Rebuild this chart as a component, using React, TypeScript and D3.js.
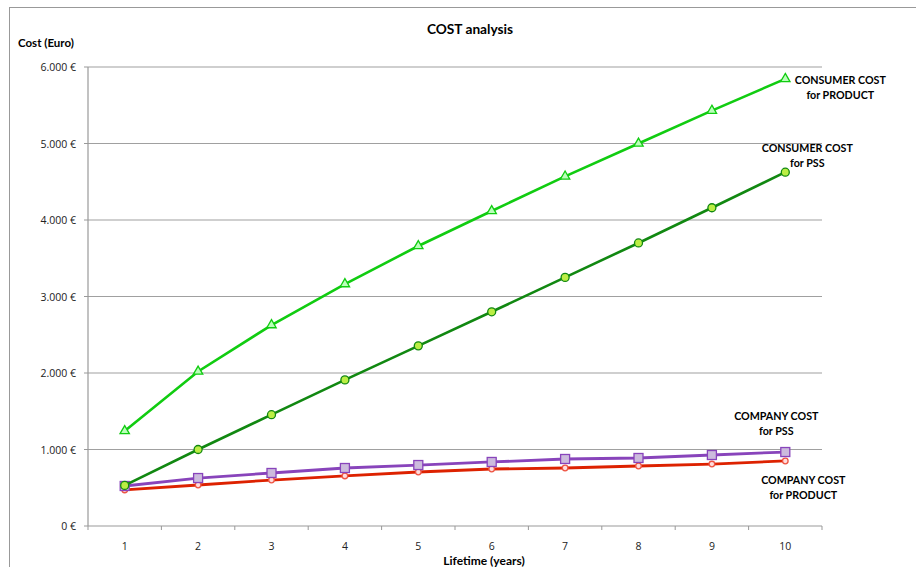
import React from "react";
import * as d3 from "d3";

const years = [1, 2, 3, 4, 5, 6, 7, 8, 9, 10];
const consumerProduct = [1242, 2020, 2627, 3163, 3660, 4118, 4570, 5000, 5430, 5845];
const consumerPSS = [530, 1000, 1455, 1910, 2355, 2800, 3250, 3700, 4160, 4625];
const companyPSS = [523, 627, 693, 758, 797, 837, 876, 889, 928, 967];
const companyProduct = [471, 536, 601, 654, 706, 745, 758, 784, 810, 850];
const yTicks = [0, 1000, 2000, 3000, 4000, 5000, 6000];
const yTickLabels = ["0 €", "1.000 €", "2.000 €", "3.000 €", "4.000 €", "5.000 €", "6.000 €"];

const W = 916;
const H = 567;
const left = 88;
const right = 822;
const top = 67;
const bottom = 526;
const FONT = "Lato, 'Open Sans', sans-serif";
const TICKFONT = "'Open Sans', Lato, sans-serif";

export default function App() {
  const x = d3.scaleBand<number>().domain(years).range([left, right]).padding(0);
  const y = d3.scaleLinear().domain([0, 6000]).range([bottom, top]);
  const cx = (d: number) => (x(d) as number) + x.bandwidth() / 2;
  const line = (vals: number[]) =>
    d3.line<number>().x((_, i) => cx(years[i])).y((v) => y(v))(vals) as string;

  const boundaries = d3.range(0, years.length + 1).map((i) => left + i * x.bandwidth());
  const tri = d3.symbol().type(d3.symbolTriangle).size(38)() as string;

  const lastX = cx(years[years.length - 1]);

  return (
    <svg width={W} height={H} style={{ position: "absolute", left: 0, top: 0, fontFamily: FONT }}>
      <rect x={0} y={0} width={W} height={H} fill="#fff" />
      <rect x={9.5} y={7.5} width={W + 20} height={H + 20} fill="none" stroke="#999" strokeWidth={1} />
      <text x={470} y={34} textAnchor="middle" fontSize={13.7} fontWeight="bold" fill="#000">
        COST analysis
      </text>
      <text x={18} y={47} fontSize={11.5} fontWeight="bold" fill="#000">
        Cost (Euro)
      </text>
      {yTicks.map((t, i) => (
        <g key={t}>
          {t > 0 && (
            <line x1={left} x2={right} y1={y(t)} y2={y(t)} stroke="#a0a0a0" strokeWidth={1.2} />
          )}
          <line x1={left - 4} x2={left} y1={y(t)} y2={y(t)} stroke="#999" />
          <text x={left - 12} y={y(t) + 4} textAnchor="end" fontSize={10.5} fontFamily={TICKFONT} fill="#222">
            {yTickLabels[i]}
          </text>
        </g>
      ))}
      <line x1={left} x2={left} y1={top} y2={bottom} stroke="#999" strokeWidth={1.2} />
      <line x1={left} x2={right} y1={bottom} y2={bottom} stroke="#999" strokeWidth={1.2} />
      {boundaries.map((b, i) => (
        <line key={i} x1={b} x2={b} y1={bottom} y2={bottom + 4} stroke="#999" />
      ))}
      {years.map((yr) => (
        <text key={yr} x={cx(yr)} y={bottom + 24} textAnchor="middle" fontSize={10.5} fontFamily={TICKFONT} fill="#222">
          {yr}
        </text>
      ))}
      <text x={484} y={565} textAnchor="middle" fontSize={12} fontWeight="bold" fill="#000">
        Lifetime (years)
      </text>

      {/* company product */}
      <path d={line(companyProduct)} fill="none" stroke="#dd2200" strokeWidth={2.8} />
      {companyProduct.map((v, i) => (
        <circle key={i} cx={cx(years[i])} cy={y(v)} r={2.8} fill="#ffdddd" stroke="#ee5544" strokeWidth={1.3} />
      ))}
      {/* company PSS */}
      <path d={line(companyPSS)} fill="none" stroke="#8844bb" strokeWidth={2.8} />
      {companyPSS.map((v, i) => (
        <rect key={i} x={cx(years[i]) - 4.5} y={y(v) - 4.5} width={9} height={9} fill="#ccbbdd" stroke="#8844bb" strokeWidth={1.3} />
      ))}
      {/* consumer PSS */}
      <path d={line(consumerPSS)} fill="none" stroke="#118811" strokeWidth={2.6} />
      {consumerPSS.map((v, i) => (
        <circle key={i} cx={cx(years[i])} cy={y(v)} r={4} fill="#bbee44" stroke="#118811" strokeWidth={1.3} />
      ))}
      {/* consumer product */}
      <path d={line(consumerProduct)} fill="none" stroke="#11cc11" strokeWidth={2.6} />
      {consumerProduct.map((v, i) => (
        <path key={i} d={tri} transform={`translate(${cx(years[i])},${y(v)})`} fill="#bbffbb" stroke="#11cc11" strokeWidth={1.3} />
      ))}

      <g fontSize={10.7} fontWeight="bold" fill="#000" textAnchor="middle">
        <text x={lastX + 55} y={84}>CONSUMER COST</text>
        <text x={lastX + 55} y={99}>for PRODUCT</text>
        <text x={lastX + 22} y={152}>CONSUMER COST</text>
        <text x={lastX + 22} y={167}>for PSS</text>
        <text x={lastX - 9} y={420}>COMPANY COST</text>
        <text x={lastX - 9} y={435}>for PSS</text>
        <text x={lastX + 18} y={484}>COMPANY COST</text>
        <text x={lastX + 18} y={499}>for PRODUCT</text>
      </g>
    </svg>
  );
}
